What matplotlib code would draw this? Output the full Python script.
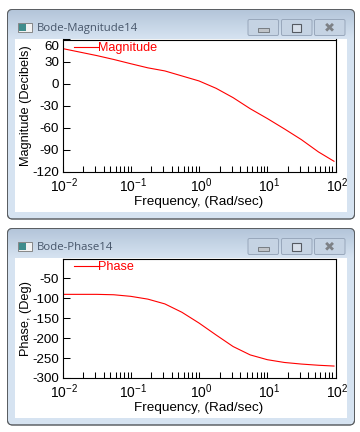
import numpy as np
import matplotlib
matplotlib.use("Agg")
import matplotlib.pyplot as plt
from matplotlib.patches import FancyBboxPatch, Rectangle
from matplotlib.ticker import LogLocator, NullFormatter
from matplotlib.transforms import ScaledTranslation

plt.rcParams['font.family'] = ['Liberation Sans', 'DejaVu Sans']
plt.rcParams['mathtext.fontset'] = 'custom'
plt.rcParams['mathtext.rm'] = 'Liberation Sans'
plt.rcParams['mathtext.default'] = 'regular'

# ---- data ----
freq = [0.01, 0.0316, 0.0562, 0.1, 0.178, 0.316, 0.562, 1.0,
        1.78, 3.16, 5.62, 10.0, 17.8, 31.6, 56.2, 95.0]
magnitude = [47.7, 38.2, 32.9, 27.1, 21.5, 17.3, 10.5, 3.7,
             -6.3, -19.0, -34.0, -47.3, -61.4, -76.0, -92.7, -105.4]
phase = [-90, -90, -91, -95, -102, -114, -135, -162,
         -192, -221, -242, -254, -261, -265, -268, -270]

mag_ticks = [-120, -90, -60, -30, 0, 30, 60]
mag_labels = ['-120', '-90', '-60', '-30', '0', '30', '60']
phase_ticks = [-300, -250, -200, -150, -100, -50, 0]
phase_labels = ['-300', '-250', '-200', '-150', '-100', '-50', '']
x_ticks = [0.01, 0.1, 1, 10, 100]
x_labels = ['$10^{-2}$', '$10^{-1}$', '$10^{0}$', '$10^{1}$', '$10^{2}$']

W, H = 360, 432
fig = plt.figure(figsize=(W / 100, H / 100), dpi=100, facecolor='white')

# ---- window chrome, in pixel coordinates ----
bg = fig.add_axes([0, 0, 1, 1])
bg.set_xlim(0, W)
bg.set_ylim(H, 0)
bg.axis('off')


def window(top, bottom, client_top, client_bottom, title):
    frame = FancyBboxPatch((7.5, top), 347, bottom - top,
                           boxstyle='round,pad=0,rounding_size=5',
                           fc='#d6e3f1', ec='#5a5e62', lw=0.7, zorder=1)
    bg.add_patch(frame)
    grad = np.linspace(0, 1, 64)[:, None, None]
    c0 = np.array([0.70, 0.77, 0.85])
    c1 = np.array([0.84, 0.89, 0.945])
    img = c0 + (c1 - c0) * grad
    im = bg.imshow(img, extent=(7.5, 354.5, client_top, top), aspect='auto', zorder=2)
    im.set_clip_path(frame)
    bg.set_xlim(0, W)
    bg.set_ylim(H, 0)
    bg.add_patch(FancyBboxPatch((7.5, top), 347, bottom - top,
                                boxstyle='round,pad=0,rounding_size=5',
                                fc='none', ec='#5a5e62', lw=0.7, zorder=3))
    bg.add_patch(Rectangle((15, client_top), 332, client_bottom - client_top,
                           fc='white', ec='none', zorder=3))
    # icon
    bg.add_patch(Rectangle((17.5, top + 13), 14, 9, fc='#f2f2f2', ec='#777777', lw=0.6, zorder=4))
    bg.add_patch(Rectangle((18.5, top + 14.5), 7, 6.5, fc='#3f8c8c', ec='none', zorder=5))
    bg.text(37, top + 18.7, title, family='Open Sans', fontsize=8.2, color='#47566a',
            va='center', ha='left', zorder=5)
    # caption buttons
    for x0, x1 in [(248, 278.5), (281.5, 312), (314.5, 345)]:
        bg.add_patch(FancyBboxPatch((x0, top + 10), x1 - x0, 16,
                                    boxstyle='round,pad=0,rounding_size=1.5',
                                    fc='#c5d3e3', ec='#98a7bb', lw=0.7, zorder=4))
    bg.add_patch(Rectangle((258, top + 18), 10.5, 4, fc='#c0c4c9', ec='#6a6f75', lw=0.6, zorder=5))
    bg.add_patch(Rectangle((291.5, top + 14.5), 9.5, 7.5, fc='#d8e0ea', ec='#555a62', lw=0.8, zorder=5))
    bg.text(329.7, top + 18, '\u2716', family='DejaVu Sans', fontsize=9.5,
            color='#7d8186', ha='center', va='center', zorder=5)


window(9.5, 219, 39, 212, 'Bode-Magnitude14')
window(228.5, 425, 258, 418, 'Bode-Phase14')


def panel(top, bottom, y, ylim, yticks, ylabels, ylabel, name, ylabel_x):
    left, right = 62.5, 335.5
    ax = fig.add_axes([left / W, 1 - bottom / H, (right - left) / W, (bottom - top) / H])
    ax.patch.set_alpha(0)
    ax.plot(freq, y, color='#ff0000', lw=0.8, label=name)
    ax.set_xscale('log')
    ax.set_xlim(0.01, 100)
    ax.set_ylim(*ylim)
    ax.set_xticks(x_ticks, x_labels)
    ax.xaxis.set_minor_locator(LogLocator(base=10, subs=range(2, 10), numticks=12))
    ax.xaxis.set_minor_formatter(NullFormatter())
    ax.set_yticks(yticks, ylabels)
    ax.tick_params(axis='x', which='both', direction='in', length=4.2, width=0.75,
                   pad=3.0, labelsize=10)
    ax.tick_params(axis='y', which='major', direction='in', length=5.2, width=0.75,
                   pad=2.5, labelsize=9.6)
    top_label = ax.get_yticklabels()[-1]
    top_label.set_va('top')
    top_label.set_transform(top_label.get_transform()
                            + ScaledTranslation(0, -2 / 100, fig.dpi_scale_trans))
    shift = ScaledTranslation(2 / 100, 0, fig.dpi_scale_trans)
    for lab in ax.get_xticklabels():
        lab.set_transform(lab.get_transform() + shift)
    for s in ax.spines.values():
        s.set_linewidth(0.8)
    h = bottom - top
    ax.set_xlabel('Frequency, (Rad/sec)', fontsize=9.7, va='center')
    ax.xaxis.set_label_coords(0.5, -30 / h)
    ax.set_ylabel(ylabel, fontsize=9.2, va='center')
    ax.yaxis.set_label_coords((ylabel_x - left) / (right - left), 0.5)
    ax.legend(loc='upper left', bbox_to_anchor=(11.5 / (right - left), 1 - 3.0 / h),
              frameon=False, borderaxespad=0, borderpad=0, handlelength=1.9,
              handletextpad=0, fontsize=9.1, labelcolor='#ff0000')
    return ax


panel(39.5, 172, magnitude, (-120, 60), mag_ticks, mag_labels,
      'Magnitude (Decibels)', 'Magnitude', 26.5)
panel(258.5, 378, phase, (-300, 0), phase_ticks, phase_labels,
      'Phase, (Deg)', 'Phase', 26.5)

fig.savefig('out.png', dpi=100, facecolor='white')
